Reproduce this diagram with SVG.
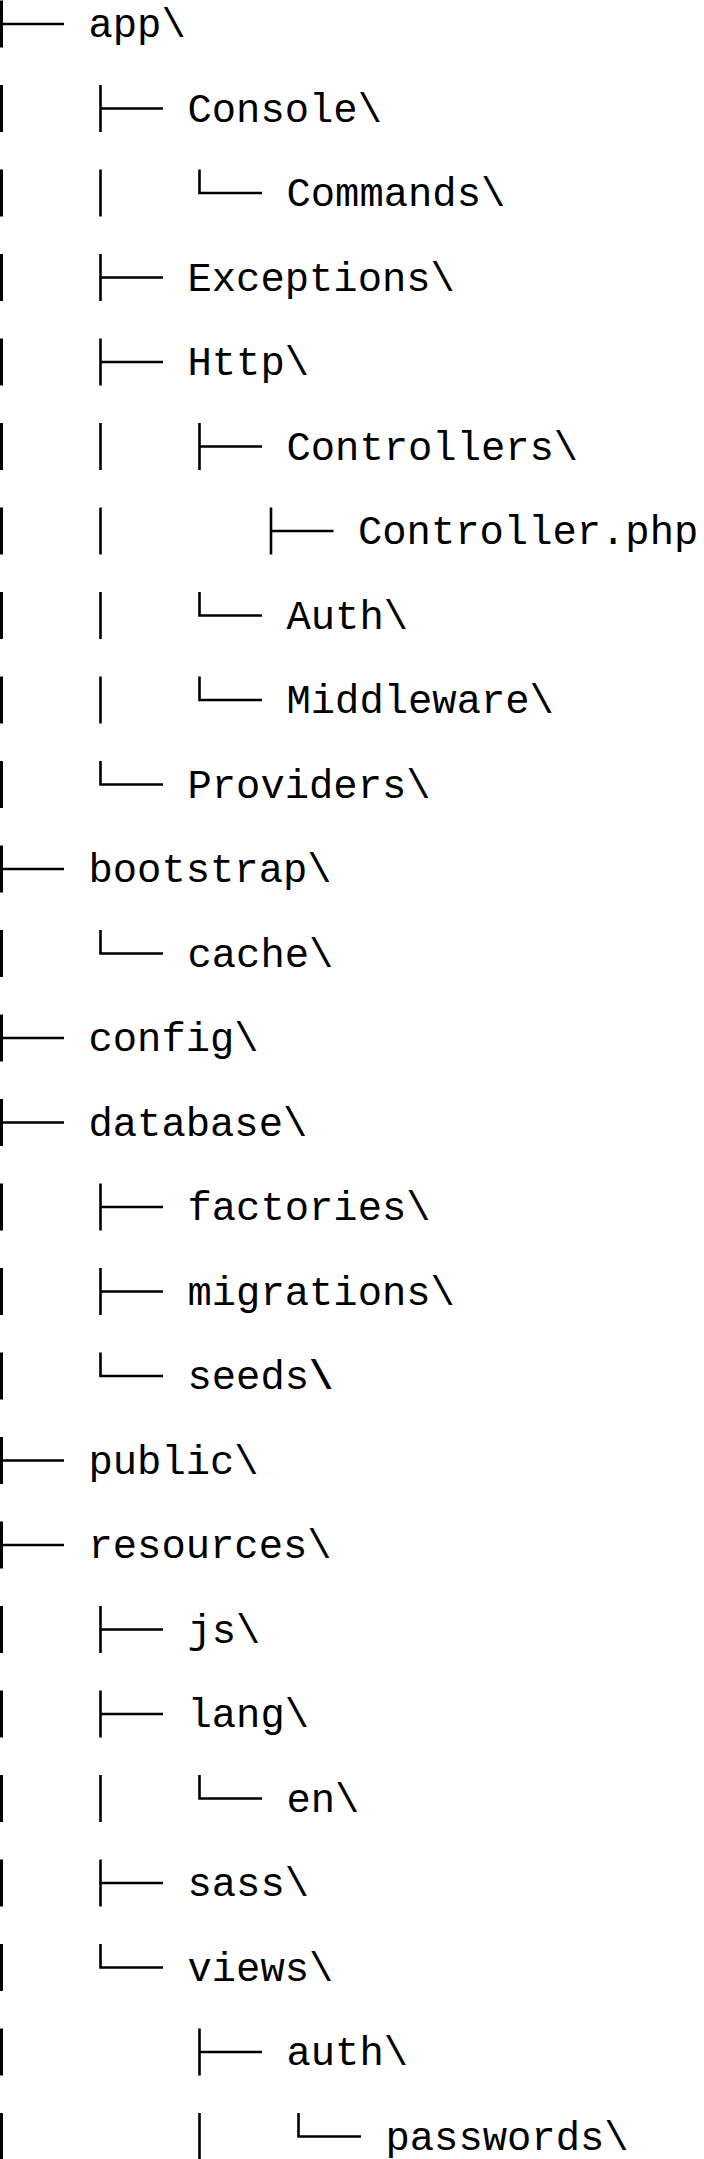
<svg xmlns="http://www.w3.org/2000/svg" width="704" height="2159" viewBox="0 0 704 2159">
<style>
.ln{fill:none;stroke:#000;stroke-width:2.6;stroke-linejoin:miter;stroke-linecap:butt}
.rt{fill:none;stroke:#000;stroke-width:3}
.t{font-family:"Liberation Mono","Courier New",monospace;font-size:40.5px;fill:#000}
</style>
<rect width="704" height="2159" fill="#fff"/>
<g id="connectors">
<path class="rt" d="M1.5 0.5V47.5 M1.5 85V132 M1.5 169.5V216.5 M1.5 254V301 M1.5 338.5V385.5 M1.5 423V470 M1.5 507.5V554.5 M1.5 592V639 M1.5 676.5V723.5 M1.5 761V808 M1.5 845.5V892.5 M1.5 930V977 M1.5 1014.5V1061.5 M1.5 1099V1146 M1.5 1183.5V1230.5 M1.5 1268V1315 M1.5 1352.5V1399.5 M1.5 1437V1484 M1.5 1521.5V1568.5 M1.5 1606V1653 M1.5 1690.5V1737.5 M1.5 1775V1822 M1.5 1859.5V1906.5 M1.5 1944V1991 M1.5 2028.5V2075.5 M1.5 2113V2160"/>
<path class="ln" d="M1.5 24H64 M1.5 869H64 M1.5 1038H64 M1.5 1122.5H64 M1.5 1460.5H64 M1.5 1545H64"/>
<path class="ln" d="M100.5 85V132 M100.5 108.5H163"/>
<path class="ln" d="M100.5 169.5V216.5 M199.5 169.5V193H262"/>
<path class="ln" d="M100.5 254V301 M100.5 277.5H163"/>
<path class="ln" d="M100.5 338.5V385.5 M100.5 362H163"/>
<path class="ln" d="M100.5 423V470 M199.5 423V470 M199.5 446.5H262"/>
<path class="ln" d="M100.5 507.5V554.5 M271 507.5V554.5 M271 531H333.5"/>
<path class="ln" d="M100.5 592V639 M199.5 592V615.5H262"/>
<path class="ln" d="M100.5 676.5V723.5 M199.5 676.5V700H262"/>
<path class="ln" d="M100.5 761V784.5H163"/>
<path class="ln" d="M100.5 930V953.5H163"/>
<path class="ln" d="M100.5 1183.5V1230.5 M100.5 1207H163"/>
<path class="ln" d="M100.5 1268V1315 M100.5 1291.5H163"/>
<path class="ln" d="M100.5 1352.5V1376H163"/>
<path class="ln" d="M100.5 1606V1653 M100.5 1629.5H163"/>
<path class="ln" d="M100.5 1690.5V1737.5 M100.5 1714H163"/>
<path class="ln" d="M100.5 1775V1822 M199.5 1775V1798.5H262"/>
<path class="ln" d="M100.5 1859.5V1906.5 M100.5 1883H163"/>
<path class="ln" d="M100.5 1944V1967.5H163"/>
<path class="ln" d="M199.5 2028.5V2075.5 M199.5 2052H262"/>
<path class="ln" d="M199.5 2113V2160 M298.5 2113V2136.5H361"/>
</g>
<g id="n-app"><text class="t" x="88.5" y="37">app\</text></g>
<g id="n-console"><text class="t" x="187.5" y="121.5">Console\</text></g>
<g id="n-commands"><text class="t" x="286.5" y="206">Commands\</text></g>
<g id="n-exceptions"><text class="t" x="187.5" y="290.5">Exceptions\</text></g>
<g id="n-http"><text class="t" x="187.5" y="375">Http\</text></g>
<g id="n-controllers"><text class="t" x="286.5" y="459.5">Controllers\</text></g>
<g id="n-controller-php"><text class="t" x="358" y="544">Controller.php</text></g>
<g id="n-auth"><text class="t" x="286.5" y="628.5">Auth\</text></g>
<g id="n-middleware"><text class="t" x="286.5" y="713">Middleware\</text></g>
<g id="n-providers"><text class="t" x="187.5" y="797.5">Providers\</text></g>
<g id="n-bootstrap"><text class="t" x="88.5" y="882">bootstrap\</text></g>
<g id="n-cache"><text class="t" x="187.5" y="966.5">cache\</text></g>
<g id="n-config"><text class="t" x="88.5" y="1051">config\</text></g>
<g id="n-database"><text class="t" x="88.5" y="1135.5">database\</text></g>
<g id="n-factories"><text class="t" x="187.5" y="1220">factories\</text></g>
<g id="n-migrations"><text class="t" x="187.5" y="1304.5">migrations\</text></g>
<g id="n-seeds"><text class="t" x="187.5" y="1389">seeds<tspan font-weight="bold">\</tspan></text></g>
<g id="n-public"><text class="t" x="88.5" y="1473.5">public\</text></g>
<g id="n-resources"><text class="t" x="88.5" y="1558">resources\</text></g>
<g id="n-js"><text class="t" x="187.5" y="1642.5">js\</text></g>
<g id="n-lang"><text class="t" x="187.5" y="1727">lang\</text></g>
<g id="n-en"><text class="t" x="286.5" y="1811.5">en\</text></g>
<g id="n-sass"><text class="t" x="187.5" y="1896">sass\</text></g>
<g id="n-views"><text class="t" x="187.5" y="1980.5">views\</text></g>
<g id="n-views-auth"><text class="t" x="286.5" y="2065">auth\</text></g>
<g id="n-passwords"><text class="t" x="385.5" y="2149.5">passwords\</text></g>
</svg>
